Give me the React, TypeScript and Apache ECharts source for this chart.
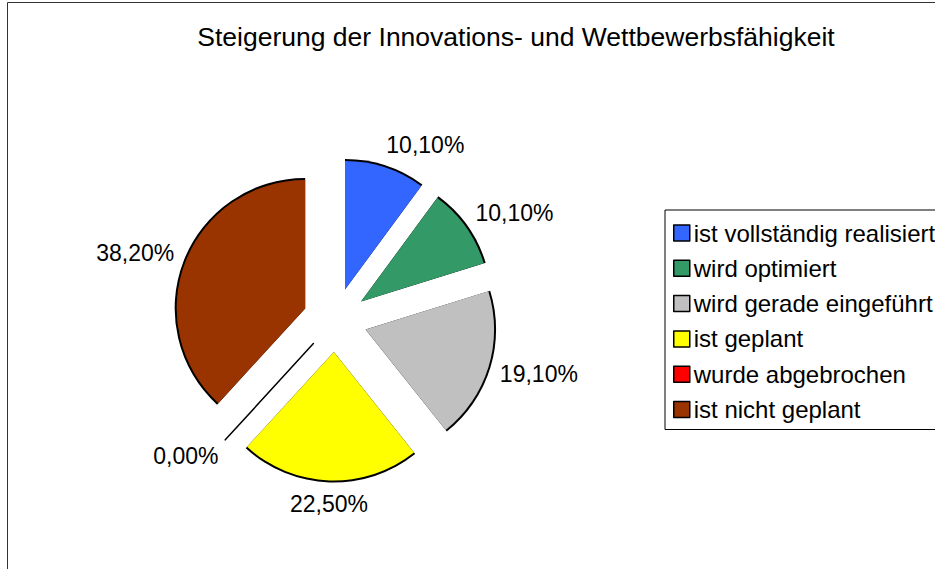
import React, { useEffect, useRef } from "react";
import * as echarts from "echarts";

const titleText = "Steigerung der Innovations- und Wettbewerbsfähigkeit";
const categories = [
  "ist vollständig realisiert",
  "wird optimiert",
  "wird gerade eingeführt",
  "ist geplant",
  "wurde abgebrochen",
  "ist nicht geplant",
];
const values = [10.1, 10.1, 19.1, 22.5, 0.0, 38.2];
const colors = ["#3366FF", "#339966", "#C0C0C0", "#FFFF00", "#FF0000", "#993300"];

const FONT = "'Liberation Sans', Arial, sans-serif";
const CENTER: [number, number] = [335, 320];
const RADIUS = 128.5;
const OUTLINE = 2;
const OFFSET = 32;
const LABEL_GAP = 12;

const fmt = (v: number) => v.toFixed(2).replace(".", ",") + "%";

export default function App() {
  const ref = useRef<HTMLDivElement>(null);
  useEffect(() => {
    if (!ref.current) return;
    const chart = echarts.init(ref.current, undefined, { renderer: "svg" });
    const total = values.reduce((a, b) => a + b, 0);
    const mids: number[] = [];
    let acc = 0;
    values.forEach((v) => {
      mids.push(((acc + v / 2) / total) * Math.PI * 2);
      acc += v;
    });

    const colored = categories.map((name, i) => ({
      name,
      value: values[i],
      selected: true,
      itemStyle: { color: colors[i], borderWidth: 0 },
    }));
    const outline = categories.map((name, i) => ({
      name,
      value: values[i],
      selected: true,
      itemStyle:
        values[i] === 0
          ? { color: "#000", borderColor: "#000", borderWidth: 1.5 }
          : { color: "#000", borderWidth: 0 },
      select: {
        itemStyle:
          values[i] === 0
            ? { color: "#000", borderColor: "#000", borderWidth: 1.5 }
            : { color: "#000", borderWidth: 0 },
      },
    }));

    chart.setOption({
      animation: false,
      backgroundColor: "#fff",
      title: {
        text: titleText,
        left: 516,
        top: 37,
        padding: 0,
        textAlign: "center",
        textVerticalAlign: "middle",
        textStyle: { fontSize: 26.5, fontWeight: "normal", fontFamily: FONT, color: "#000" },
      },
      legend: {
        orient: "vertical",
        left: 665,
        top: 210,
        padding: [11, 8, 8, 8],
        itemGap: 11.3,
        itemWidth: 16,
        itemHeight: 16,
        icon: "rect",
        borderColor: "#000",
        borderWidth: 1,
        data: categories,
        selectedMode: false,
        itemStyle: { borderColor: "#000", borderWidth: 1.5 },
        textStyle: { fontSize: 24, fontFamily: FONT, color: "#000", lineHeight: 24, padding: [0, 0, 0, -1] },
      },
      graphic: [
        {
          type: "rect",
          shape: { x: 7.5, y: 2.5, width: 1200, height: 900 },
          style: { fill: "none", stroke: "#333", lineWidth: 1 },
          silent: true,
          z: -1,
        },
      ],
      series: [
        {
          type: "pie",
          name: "colored",
          z: 3,
          center: CENTER,
          radius: [0, RADIUS],
          startAngle: 90,
          clockwise: true,
          selectedMode: "multiple",
          selectedOffset: OFFSET,
          avoidLabelOverlap: false,
          emphasis: { disabled: true },
          select: { itemStyle: { borderWidth: 0 } },
          data: colored,
          label: {
            show: true,
            position: "outside",
            formatter: (p: any) => fmt(p.value),
            fontSize: 23,
            fontFamily: FONT,
            color: "#000",
          },
          labelLine: { show: true, length: 15, length2: 0, lineStyle: { opacity: 0, width: 0 } },
          labelLayout: (p: any) => {
            const i = p.dataIndex;
            const a = mids[i];
            const dx = Math.sin(a);
            const dy = -Math.cos(a);
            // the selected offset is applied afterwards by the slice itself
            const r = RADIUS + LABEL_GAP;
            const w = p.labelRect.width;
            const h = p.labelRect.height;
            const s = Math.abs(dx) < 0.15 ? 0 : Math.max(-1, Math.min(1, dx * 3));
            const tx = CENTER[0] + r * dx + (s * w) / 2;
            const ty = CENTER[1] + r * dy + (dy * h) / 2;
            const curX = p.labelRect.x + w / 2;
            const curY = p.labelRect.y + h / 2;
            return { dx: tx - curX, dy: ty - curY };
          },
        },
        {
          type: "pie",
          name: "outline",
          z: 2,
          center: CENTER,
          radius: [0, RADIUS + OUTLINE],
          startAngle: 90,
          clockwise: true,
          selectedMode: "multiple",
          selectedOffset: OFFSET,
          emphasis: { disabled: true },
          silent: true,
          data: outline,
          label: { show: false },
          labelLine: { show: false },
        },
      ],
    });
    return () => chart.dispose();
  }, []);
  return (
    <div
      ref={ref}
      style={{ position: "fixed", left: 0, top: 0, width: 935, height: 569 }}
    />
  );
}
